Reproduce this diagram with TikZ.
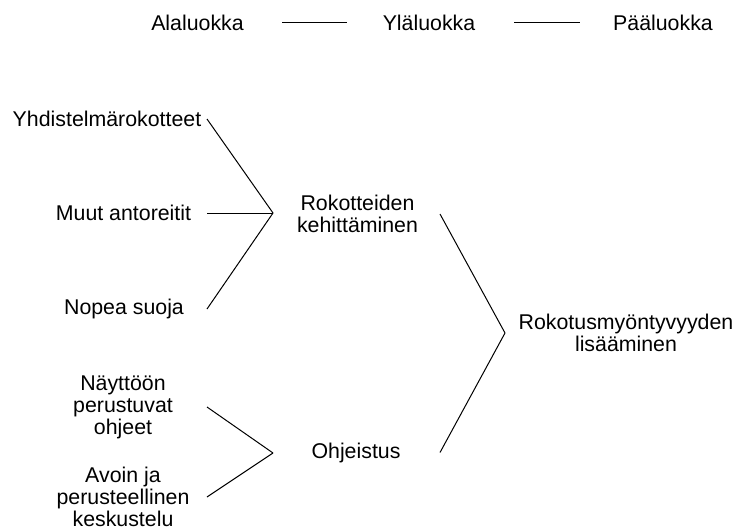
\documentclass[tikz,border=0pt]{standalone}
\usepackage{fontspec}
\setmainfont{Liberation Sans}
\begin{document}
\begin{tikzpicture}[x=0.75pt,y=-0.75pt,
  lbl/.style={inner sep=0pt,align=center,font=\fontsize{16}{16.5}\selectfont},
  link/.style={draw=black,line width=0.75pt}]
\useasboundingbox (0,0) rectangle (734,531);

% header row
\node[lbl] (ala) at (197.5,23) {Alaluokka};
\node[lbl] (yla) at (429,23) {Yläluokka};
\node[lbl] (paa) at (663,23) {Pääluokka};
\coordinate (h1a) at (282,23);
\coordinate (h1b) at (347,23);
\coordinate (h2a) at (514,23);
\coordinate (h2b) at (580,23);
\draw[link] (h1a) -- (h1b);
\draw[link] (h2a) -- (h2b);

% lowest level
\node[lbl] (yhd) at (107,119) {Yhdistelmärokotteet};
\node[lbl] (muut) at (123.5,213) {Muut antoreitit};
\node[lbl] (nop) at (124,309) {Nopea suoja};
\node[lbl] (nay) at (123,407) {Näyttöön\\perustuvat\\ohjeet};
\node[lbl] (avo) at (123,497) {Avoin ja\\perusteellinen\\keskustelu};

% middle level
\node[lbl] (rok) at (357.5,214) {Rokotteiden\\kehittäminen};
\node[lbl] (ohj) at (356,452.5) {Ohjeistus};

% top level
\node[lbl] (lis) at (626,333) {Rokotusmyöntyvyyden\\lisääminen};

% columns where the branches start and meet
\coordinate (c1) at (207,0);
\coordinate (j1) at (273,213);
\coordinate (j2) at (273,453);
\coordinate (c2) at (440,0);
\coordinate (j3) at (505,333);

\draw[link] (yhd.center -| c1) -- (j1);
\draw[link] (muut.center -| c1) -- (j1);
\draw[link] (nop.center -| c1) -- (j1);
\draw[link] (nay.center -| c1) -- (j2);
\draw[link] (avo.center -| c1) -- (j2);
\draw[link] (rok.center -| c2) -- (j3);
\draw[link] (ohj.center -| c2) -- (j3);
\end{tikzpicture}
\end{document}
